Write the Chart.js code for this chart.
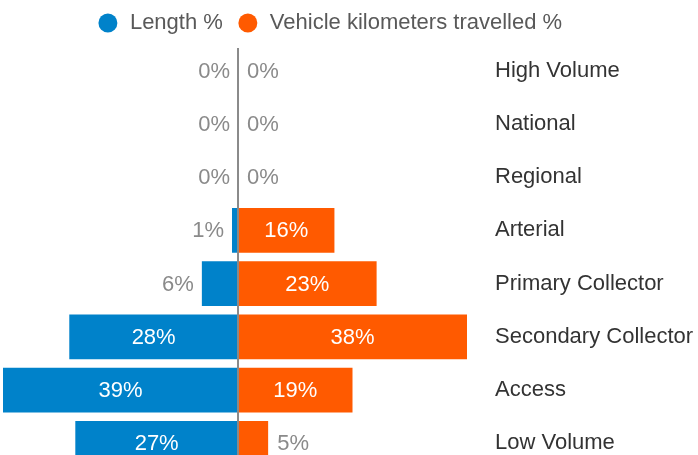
<!DOCTYPE html>
<html>
<head>
<meta charset="utf-8">
<script src="https://cdn.jsdelivr.net/npm/chart.js@4.4.0/dist/chart.umd.min.js"></script>
<style>
  html, body { margin: 0; padding: 0; overflow: hidden; background: #fff; }
  #wrap { position: relative; width: 698px; height: 470px; }
</style>
</head>
<body>
<div id="wrap"><canvas id="road-chart"></canvas></div>
<script>
const roadClasses = ['High Volume', 'National', 'Regional', 'Arterial', 'Primary Collector', 'Secondary Collector', 'Access', 'Low Volume'];
const lengthPct = [0, 0, 0, 1, 6, 28, 39, 27];
const vktPct = [0, 0, 0, 16, 23, 38, 19, 5];
const seriesNames = ['Length %', 'Vehicle kilometers travelled %'];

const BLUE = '#0082ca';
const ORANGE = '#ff5a00';
const FONT = '"Liberation Sans", Arial, sans-serif';

// zero line + percentage labels on the bars
const barLabels = {
    id: 'barLabels',
    afterLayout(chart) {
        // legend sits a bit left of centre in the original
        chart.legend.left -= 21;
        chart.legend.right -= 21;
    },
    afterDatasetsDraw(chart) {
        const ctx = chart.ctx;
        const zero = chart.scales.x.getPixelForValue(0);
        ctx.save();
        ctx.strokeStyle = '#8a8a8a';
        ctx.lineWidth = 2;
        ctx.beginPath();
        ctx.moveTo(zero, chart.chartArea.top + 4);
        ctx.lineTo(zero, chart.chartArea.bottom);
        ctx.stroke();

        ctx.font = '22px ' + FONT;
        ctx.textBaseline = 'middle';
        chart.data.datasets.forEach((ds, di) => {
            const values = di === 0 ? lengthPct : vktPct;
            chart.getDatasetMeta(di).data.forEach((bar, i) => {
                const v = values[i];
                const text = v + '%';
                if (v >= 10) {
                    ctx.fillStyle = '#ffffff';
                    ctx.textAlign = 'center';
                    ctx.fillText(text, (bar.x + bar.base) / 2, bar.y + 1);
                } else if (di === 0) {
                    ctx.fillStyle = '#8a8a8a';
                    ctx.textAlign = 'right';
                    ctx.fillText(text, bar.x - 8, bar.y + 1);
                } else {
                    ctx.fillStyle = '#8a8a8a';
                    ctx.textAlign = 'left';
                    ctx.fillText(text, bar.x + 9, bar.y + 1);
                }
            });
        });
        ctx.restore();
    }
};

new Chart(document.querySelector('#road-chart').getContext('2d'), {
    type: 'bar',
    data: {
        labels: roadClasses,
        datasets: [
            {
                label: seriesNames[0],
                backgroundColor: BLUE,
                data: lengthPct.map(v => -v)
            },
            {
                label: seriesNames[1],
                backgroundColor: ORANGE,
                data: vktPct
            }
        ]
    },
    options: {
        indexAxis: 'y',
        responsive: true,
        maintainAspectRatio: false,
        animation: false,
        barPercentage: 0.84,
        categoryPercentage: 1,
        layout: { padding: { left: 3, right: 0, top: -2, bottom: 0 } },
        scales: {
            x: { stacked: true, min: -39, max: 38, display: false },
            y: {
                stacked: true,
                position: 'right',
                grid: { display: false, drawTicks: false },
                border: { display: false },
                ticks: { padding: 28, color: '#333333', font: { size: 22, family: FONT } },
                afterFit(scale) {
                    scale.width = 231;
                    scale.paddingTop = 0;
                    scale.paddingBottom = 0;
                }
            }
        },
        plugins: {
            legend: {
                position: 'top',
                labels: {
                    usePointStyle: true,
                    pointStyle: 'circle',
                    boxWidth: 22,
                    boxHeight: 13.4,
                    padding: 14,
                    color: '#595959',
                    font: { size: 22, family: FONT }
                }
            },
            tooltip: { enabled: false }
        }
    },
    plugins: [barLabels]
});
</script>
</body>
</html>
